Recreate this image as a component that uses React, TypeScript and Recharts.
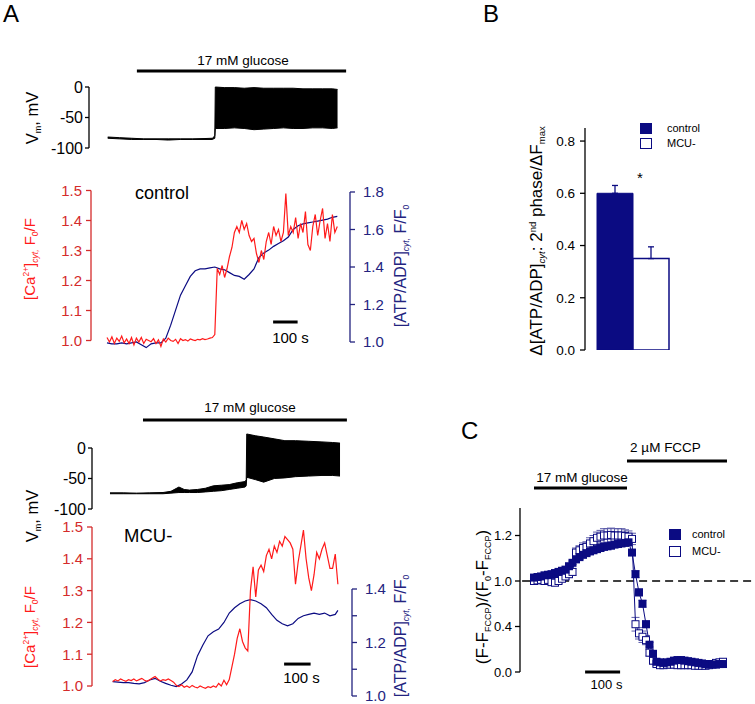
import React from 'react'
import {
  ComposedChart, BarChart, Bar, Line, Area, XAxis, YAxis,
  ReferenceLine, ErrorBar, Legend,
} from 'recharts'

const NAVY = '#0b0b82'
const ERR = '#5a5aa8'
const RED = '#ff1a1a'
const RED_AXIS = '#d42b2b'
const BLUE_AXIS = '#23237f'
const FONT = '"Liberation Sans", Arial, Helvetica, sans-serif'

// ---------- A, control ----------
// membrane potential envelope (s, mV): trough / peak of the spike train
const vmCtrlTime = [3, 50, 100, 150, 200, 250, 300, 350, 400, 430, 440, 442, 480, 520, 560, 600, 640, 680, 720, 760, 800, 840, 880, 920, 941]
const vmCtrlLow = [-84, -85, -86, -86, -86, -87, -86, -86, -86, -86, -84, -68, -68, -67, -68, -70, -69, -68, -67, -68, -68, -67, -67, -68, -67]
const vmCtrlHigh = [-82, -83, -84, -85, -85, -85, -85, -85, -84.5, -84, -80, 0, -1, -1, -2, -1, -2, -2, -2, -2, -3, -3, -3, -3, -4]

// [Ca2+]cyt F0/F, one sample every 10 s from t = 0
const caCtrlStart = 0
const caCtrlDt = 10
const caCtrl = [
  1.01, 0.995, 1.012, 0.99, 1.008, 0.997, 1.015, 0.992, 1.005, 0.99,
  1.01, 0.985, 1.008, 0.995, 1.01, 0.99, 1.004, 1.0, 0.996, 1.006,
  0.99, 1.002, 0.98, 1.005, 0.995, 1.008, 1.0, 0.997, 1.004, 0.99,
  1.006, 1.0, 1.003, 0.998, 1.005, 1.002, 1.0, 1.004, 1.002, 1.006,
  1.003, 1.005, 1.008, 1.01, 1.02,
  1.24, 1.22, 1.25, 1.21, 1.24, 1.28, 1.31, 1.36, 1.38, 1.36,
  1.40, 1.37, 1.39, 1.35, 1.33, 1.34, 1.29, 1.26, 1.30, 1.27,
  1.33, 1.36, 1.32, 1.38, 1.35, 1.37, 1.33, 1.36, 1.49, 1.35,
  1.38, 1.36, 1.41, 1.34, 1.39, 1.36, 1.43, 1.32, 1.30, 1.38,
  1.42, 1.35, 1.40, 1.44, 1.34, 1.39, 1.33, 1.42, 1.36, 1.38,
]

// [ATP/ADP]cyt F/F0
const atpCtrlTime = [
  0, 20, 40, 60, 80, 100, 120, 140, 160, 180, 200, 220, 240, 260, 280, 300,
  320, 340, 360, 380, 400, 420, 440, 460, 480, 500, 520, 540, 560, 580, 600,
  620, 640, 660, 680, 700, 720, 740, 760, 780, 800, 820, 840, 860, 880, 900, 920, 940,
]
const atpCtrl = [
  0.995, 0.99, 0.99, 0.995, 0.99, 0.995, 1.0, 0.985, 0.97, 0.99,
  0.995, 0.995, 1.02, 1.09, 1.17, 1.25, 1.30, 1.35, 1.38, 1.39,
  1.39, 1.395, 1.40, 1.39, 1.385, 1.37, 1.355, 1.35, 1.335, 1.36,
  1.39, 1.45, 1.475, 1.49, 1.51, 1.525, 1.54, 1.56, 1.60, 1.62,
  1.63, 1.635, 1.64, 1.645, 1.65, 1.655, 1.665, 1.67,
]

// ---------- A, MCU- ----------
const vmMcuTime = [0, 50, 100, 150, 200, 230, 260, 280, 300, 330, 360, 390, 420, 450, 480, 510, 514, 516, 550, 580, 620, 660, 700, 750, 800, 840, 868]
const vmMcuLow = [-75, -75, -75, -75, -75, -74, -73, -73, -73, -73, -72, -71, -70, -68, -66, -64, -62, -48, -52, -56, -50, -49, -47, -46, -45, -45, -46]
const vmMcuHigh = [-73.5, -73.5, -74, -73.5, -73, -71, -64, -68, -69, -68, -66, -62, -61, -60, -57, -55, -52, 23, 20, 18, 15, 12, 12, 11, 10, 9, 8]

const caMcuStart = 10
const caMcuDt = 10
const caMcu = [
  1.014, 1.02, 1.016, 1.022, 1.018, 1.015, 1.02, 1.017, 1.022, 1.016,
  1.02, 1.024, 1.018, 1.015, 1.02, 1.025, 1.03, 1.022, 1.016, 1.02,
  1.018, 1.022, 1.017, 1.012,
  1.002, 0.998, 1.004, 0.996, 1.0, 0.995, 1.002, 0.997, 0.994, 1.0,
  0.996, 0.993, 0.998, 0.995, 1.0, 0.996,
  1.008, 1.0, 1.018, 1.004, 1.02,
  1.06, 1.10, 1.15, 1.18, 1.14, 1.12, 1.11, 1.30, 1.375, 1.28,
  1.365, 1.38, 1.36, 1.41, 1.43, 1.40, 1.44, 1.42, 1.455, 1.44,
  1.47, 1.46, 1.45, 1.43, 1.32, 1.39, 1.44, 1.49, 1.40, 1.34,
  1.30, 1.35, 1.42, 1.40, 1.43, 1.45, 1.41, 1.37, 1.37, 1.415,
  1.32,
]

const atpMcuTime = [
  10, 30, 50, 70, 90, 110, 130, 150, 170, 190, 210, 230, 250, 270, 290, 310,
  330, 350, 370, 390, 410, 430, 450, 470, 490, 510, 530, 550, 570, 590, 610,
  630, 650, 670, 690, 710, 730, 750, 770, 790, 810, 830, 850, 860,
]
const atpMcu = [
  1.054, 1.052, 1.05, 1.05, 1.047, 1.045, 1.05, 1.06, 1.066, 1.055,
  1.047, 1.04, 1.035, 1.045, 1.06, 1.09, 1.15, 1.19, 1.225, 1.24,
  1.25, 1.275, 1.31, 1.33, 1.345, 1.355, 1.36, 1.355, 1.345, 1.33,
  1.305, 1.283, 1.27, 1.262, 1.27, 1.29, 1.30, 1.305, 1.31, 1.305,
  1.31, 1.30, 1.305, 1.32,
]

// ---------- B ----------
const bGroups = ['2nd phase']
const bControl = [0.6]
const bControlErr = [0.03]
const bMcu = [0.35]
const bMcuErr = [0.045]

// ---------- C ----------
const cTime = [
  0, 10, 20, 30, 40, 50, 60, 70, 80, 90, 100, 110, 120, 130, 140, 150, 160,
  170, 180, 190, 200, 210, 220, 230, 240, 250, 260, 270, 280, 290, 300, 310,
  320, 330, 340, 350, 360, 370, 380, 390, 400, 410, 420, 430, 440, 450, 460,
  470, 480, 490, 500, 510, 520, 530, 540,
]
const cControl = [
  0.83, 0.835, 0.84, 0.85, 0.855, 0.86, 0.87, 0.88, 0.89, 0.90,
  0.93, 0.96, 0.99, 1.01, 1.03, 1.045, 1.06, 1.07, 1.08, 1.09,
  1.10, 1.105, 1.11, 1.12, 1.125, 1.13, 1.135, 1.14, 1.05, 0.86,
  0.70, 0.60, 0.42, 0.24, 0.16, 0.09, 0.085, 0.08, 0.085, 0.09,
  0.10, 0.105, 0.105, 0.10, 0.095, 0.09, 0.085, 0.08, 0.075, 0.07,
  0.07, 0.065, 0.065, 0.07, 0.07,
]
const cControlErr = [
  0.01, 0.01, 0.01, 0.01, 0.01, 0.01, 0.01, 0.01, 0.015, 0.015,
  0.015, 0.015, 0.02, 0.02, 0.02, 0.02, 0.02, 0.02, 0.02, 0.02,
  0.02, 0.02, 0.02, 0.02, 0.02, 0.02, 0.02, 0.02, 0.02, 0.03,
  0.03, 0.03, 0.03, 0.02, 0.02, 0.015, 0.01, 0.01, 0.01, 0.01,
  0.01, 0.01, 0.01, 0.01, 0.01, 0.01, 0.01, 0.01, 0.01, 0.01,
  0.01, 0.01, 0.01, 0.01, 0.01,
]
const cMcu = [
  0.80, 0.805, 0.81, 0.80, 0.81, 0.79, 0.785, 0.80, 0.82, 0.84,
  0.86, 0.88, 1.05, 1.07, 1.09, 1.10, 1.13, 1.15, 1.18, 1.19,
  1.20, 1.20, 1.205, 1.20, 1.20, 1.20, 1.195, 1.19, 1.17, 0.42,
  0.34, 0.31, 0.28, 0.17, 0.10, 0.07, 0.06, 0.06, 0.065, 0.065,
  0.065, 0.06, 0.06, 0.06, 0.06, 0.06, 0.055, 0.055, 0.055, 0.055,
  0.06, 0.07, 0.08, 0.085, 0.09,
]
const cMcuErr = [
  0.02, 0.02, 0.02, 0.02, 0.02, 0.02, 0.02, 0.02, 0.025, 0.025,
  0.03, 0.03, 0.04, 0.04, 0.045, 0.045, 0.05, 0.05, 0.05, 0.055,
  0.06, 0.06, 0.06, 0.06, 0.06, 0.06, 0.055, 0.05, 0.05, 0.06,
  0.05, 0.05, 0.04, 0.03, 0.03, 0.02, 0.02, 0.02, 0.02, 0.02,
  0.02, 0.02, 0.02, 0.02, 0.02, 0.02, 0.02, 0.02, 0.02, 0.02,
  0.02, 0.02, 0.02, 0.02, 0.02,
]
const cTicks = [0, 0.4, 0.8, 1.2]
const cTickLabels = ['0.0', '0.4', '1.0', '1.2']

// ---------- tables ----------
const rangeRows = (time: number[], lo: number[], hi: number[]) =>
  time.map((t, i) => ({ t, range: [lo[i], hi[i]] }))
const traceRows = (time: number[], v: number[]) => time.map((t, i) => ({ t, v: v[i] }))
const sampledRows = (start: number, dt: number, v: number[]) => v.map((y, i) => ({ t: start + i * dt, v: y }))

const vmCtrlRows = rangeRows(vmCtrlTime, vmCtrlLow, vmCtrlHigh)
const vmMcuRows = rangeRows(vmMcuTime, vmMcuLow, vmMcuHigh)
const caCtrlRows = sampledRows(caCtrlStart, caCtrlDt, caCtrl)
const caMcuRows = sampledRows(caMcuStart, caMcuDt, caMcu)
const atpCtrlRows = traceRows(atpCtrlTime, atpCtrl)
const atpMcuRows = traceRows(atpMcuTime, atpMcu)
const bRows = bGroups.map((g, i) => ({
  group: g, control: bControl[i], mcu: bMcu[i],
  controlErr: [0, bControlErr[i]], mcuErr: [0, bMcuErr[i]],
}))
const cRows = cTime.map((t, i) => ({
  t, control: cControl[i], mcu: cMcu[i], controlErr: cControlErr[i], mcuErr: cMcuErr[i],
}))

const fmt1 = (v: number) => v.toFixed(1)

function VmChart({ top, width, height, yWidth, margin, xDomain, yDomain, rows, glucose }: any) {
  return (
    <div style={{ position: 'absolute', left: 0, top }}>
      <ComposedChart width={width} height={height} data={rows} margin={margin}>
        <XAxis type="number" dataKey="t" domain={xDomain} allowDataOverflow hide />
        <YAxis type="number" width={yWidth} domain={yDomain} allowDataOverflow ticks={[0, -50, -100]} interval={0}
          axisLine={false} tickSize={4} tickMargin={2}
          tickLine={{ stroke: '#000', strokeWidth: 1.3 }} tick={{ fill: '#000', fontSize: 16 }} />
        <ReferenceLine ifOverflow="visible" segment={[{ x: xDomain[0], y: -100 }, { x: xDomain[0], y: 0 }]} stroke="#000" strokeWidth={1.3} />
        <ReferenceLine ifOverflow="visible" segment={[{ x: glucose[0], y: glucose[2] }, { x: glucose[1], y: glucose[2] }]} stroke="#000" strokeWidth={3} />
        <Area dataKey="range" type="linear" stroke="#000" strokeWidth={1} fill="#000" fillOpacity={1}
          dot={false} activeDot={false} isAnimationActive={false} />
      </ComposedChart>
    </div>
  )
}

function CaChart({ top, height, margin, leftW, rightW, xDomain, caDomain, atpDomain, atpTicks, atpTop, caRows, atpRows, scaleBar }: any) {
  return (
    <div style={{ position: 'absolute', left: 0, top }}>
      <ComposedChart width={420} height={height} margin={margin}>
        <XAxis type="number" dataKey="t" domain={xDomain} allowDataOverflow hide />
        <YAxis yAxisId="ca" orientation="left" type="number" width={leftW} domain={caDomain} allowDataOverflow
          ticks={[1.0, 1.1, 1.2, 1.3, 1.4, 1.5]} interval={0} tickFormatter={fmt1} axisLine={false} tickSize={5} tickMargin={4}
          tickLine={{ stroke: RED_AXIS, strokeWidth: 1.3 }} tick={{ fill: RED_AXIS, fontSize: 15 }} />
        <YAxis yAxisId="atp" orientation="right" type="number" width={rightW} domain={atpDomain} allowDataOverflow
          ticks={atpTicks} interval={0} tickFormatter={(v: number) => (Math.round(v * 10) % 2 === 0 ? v.toFixed(1) : '')}
          axisLine={false} tickSize={5} tickMargin={8}
          tickLine={{ stroke: BLUE_AXIS, strokeWidth: 1.3 }} tick={{ fill: BLUE_AXIS, fontSize: 15 }} />
        <ReferenceLine yAxisId="ca" ifOverflow="visible" segment={[{ x: xDomain[0], y: 1.0 }, { x: xDomain[0], y: 1.5 }]} stroke={RED_AXIS} strokeWidth={1.3} />
        <ReferenceLine yAxisId="atp" ifOverflow="visible" segment={[{ x: xDomain[1], y: 1.0 }, { x: xDomain[1], y: atpTop }]} stroke={BLUE_AXIS} strokeWidth={1.3} />
        <ReferenceLine yAxisId="ca" ifOverflow="visible" segment={[{ x: scaleBar[0], y: scaleBar[2] }, { x: scaleBar[1], y: scaleBar[2] }]} stroke="#000" strokeWidth={3} />
        <Line yAxisId="atp" data={atpRows} dataKey="v" type="linear" stroke={NAVY} strokeWidth={1.2} dot={false} activeDot={false} isAnimationActive={false} />
        <Line yAxisId="ca" data={caRows} dataKey="v" type="linear" stroke={RED} strokeWidth={1.2} dot={false} activeDot={false} isAnimationActive={false} />
      </ComposedChart>
    </div>
  )
}

function SquareLegend({ items, gap, textGap, height }: any) {
  return (
    <div style={{ fontFamily: FONT }}>
      {items.map((it: any) => (
        <div key={it.name} style={{ display: 'flex', alignItems: 'center', height, marginBottom: gap }}>
          <span style={{
            display: 'inline-block', width: 12, height, boxSizing: 'border-box',
            background: it.filled ? NAVY : '#fff', border: `1.3px solid ${NAVY}`,
          }} />
          <span style={{ marginLeft: textGap, fontSize: 11, lineHeight: `${height}px`, color: '#000' }}>{it.name}</span>
        </div>
      ))}
    </div>
  )
}

const legendItems = [{ name: 'control', filled: true }, { name: 'MCU-', filled: false }]

const FilledSquare = (p: any) => {
  if (p.cx == null || p.cy == null) return <g key={`f-${p.index}`} />
  return <rect key={`f-${p.index}`} x={p.cx - 4} y={p.cy - 4} width={8} height={8} fill={NAVY} />
}
const OpenSquare = (p: any) => {
  if (p.cx == null || p.cy == null) return <g key={`o-${p.index}`} />
  return <rect key={`o-${p.index}`} x={p.cx - 3.5} y={p.cy - 3.5} width={7} height={7} fill="#fff" stroke={NAVY} strokeWidth={1} />
}

function PanelB() {
  return (
    <div style={{ position: 'absolute', left: 480, top: 100 }}>
      <BarChart width={275} height={270} data={bRows} margin={{ top: 28, right: 74, bottom: 20, left: 0 }} barGap={0} barSize={36}>
        <XAxis dataKey="group" hide />
        <YAxis type="number" width={105} domain={[0, 0.85]} allowDataOverflow ticks={[0, 0.2, 0.4, 0.6, 0.8]} interval={0}
          tickFormatter={fmt1} axisLine={{ stroke: '#000', strokeWidth: 1.3 }} tickSize={5} tickMargin={5}
          tickLine={{ stroke: '#000', strokeWidth: 1.3 }} tick={{ fill: '#000', fontSize: 13.5 }} />
        <Bar dataKey="control" fill={NAVY} stroke={NAVY} strokeWidth={1} isAnimationActive={false}>
          <ErrorBar dataKey="controlErr" direction="y" width={3} stroke={NAVY} strokeWidth={1.3} />
        </Bar>
        <Bar dataKey="mcu" fill="#fff" stroke={NAVY} strokeWidth={1.5} isAnimationActive={false}>
          <ErrorBar dataKey="mcuErr" direction="y" width={3} stroke={NAVY} strokeWidth={1.3} />
        </Bar>
        <Legend layout="vertical" align="center" verticalAlign="middle"
          wrapperStyle={{ left: 160, top: 23, width: 90 }}
          content={() => <SquareLegend items={legendItems} gap={4} textGap={15} height={11} />} />
      </BarChart>
    </div>
  )
}

function PanelC() {
  const xDomain = [-40, 631.43]
  return (
    <div style={{ position: 'absolute', left: 480, top: 430 }}>
      <ComposedChart width={275} height={274} data={cRows} margin={{ top: 10, right: 0, bottom: 32, left: 0 }}>
        <XAxis type="number" dataKey="t" domain={xDomain} allowDataOverflow hide />
        <YAxis type="number" width={40} domain={[0, 2.0396]} allowDataOverflow ticks={cTicks} interval={0}
          tickFormatter={(v: number, i: number) => cTickLabels[i] ?? fmt1(v)} axisLine={false}
          tickSize={5} tickMargin={3} tickLine={{ stroke: '#000', strokeWidth: 1.3 }} tick={{ fill: '#000', fontSize: 13 }} />
        <ReferenceLine ifOverflow="visible" segment={[{ x: xDomain[0], y: 0 }, { x: xDomain[0], y: 1.442 }]} stroke="#000" strokeWidth={1.3} />
        <ReferenceLine ifOverflow="visible" segment={[{ x: -34, y: 0.8 }, { x: 623, y: 0.8 }]} stroke="#000" strokeWidth={1.5} strokeDasharray="8 5" />
        <ReferenceLine ifOverflow="visible" segment={[{ x: 0, y: 1.6176 }, { x: 265.7, y: 1.6176 }]} stroke="#000" strokeWidth={3} />
        <ReferenceLine ifOverflow="visible" segment={[{ x: 265.7, y: 1.855 }, { x: 551.4, y: 1.855 }]} stroke="#000" strokeWidth={3} />
        <ReferenceLine ifOverflow="visible" segment={[{ x: 146, y: 0 }, { x: 246, y: 0 }]} stroke="#000" strokeWidth={3} />
        <Line dataKey="mcu" type="linear" stroke={NAVY} strokeWidth={1} dot={OpenSquare} activeDot={false} isAnimationActive={false}>
          <ErrorBar dataKey="mcuErr" direction="y" width={4} stroke={ERR} strokeWidth={1} />
        </Line>
        <Line dataKey="control" type="linear" stroke={NAVY} strokeWidth={1} dot={FilledSquare} activeDot={false} isAnimationActive={false}>
          <ErrorBar dataKey="controlErr" direction="y" width={4} stroke={ERR} strokeWidth={1} />
        </Line>
        <Legend layout="vertical" align="center" verticalAlign="middle"
          wrapperStyle={{ left: 189, top: 99, width: 80 }}
          content={() => <SquareLegend items={legendItems} gap={6} textGap={11} height={11} />} />
      </ComposedChart>
    </div>
  )
}

function Overlay() {
  return (
    <svg width={755} height={704} style={{ position: 'absolute', left: 0, top: 0, pointerEvents: 'none' }} fontFamily={FONT}>
      <text x={3} y={22} fontSize={24}>A</text>
      <text x={483} y={22} fontSize={24}>B</text>
      <text x={461} y={439} fontSize={24}>C</text>

      <text x={243} y={64.5} fontSize={13.5} textAnchor="middle">17 mM glucose</text>
      <text x={250} y={411.5} fontSize={13.5} textAnchor="middle">17 mM glucose</text>
      <text x={135} y={199} fontSize={18}>control</text>
      <text x={124} y={542} fontSize={18.5}>MCU-</text>
      <text x={290.5} y={343} fontSize={15} textAnchor="middle">100 s</text>
      <text x={301.5} y={683} fontSize={15} textAnchor="middle">100 s</text>

      <text transform="translate(38 118) rotate(-90)" textAnchor="middle" fontSize={16.5}>
        V<tspan fontSize={9} dy={3}>m</tspan><tspan dy={-3}>, mV</tspan>
      </text>
      <text transform="translate(38 516) rotate(-90)" textAnchor="middle" fontSize={16.5}>
        V<tspan fontSize={9} dy={3}>m</tspan><tspan dy={-3}>, mV</tspan>
      </text>
      {[259, 627].map((cy) => (
        <text key={`ca-${cy}`} transform={`translate(35 ${cy}) rotate(-90)`} textAnchor="middle" fontSize={15} fill={RED}>
          [Ca<tspan fontSize={8.5} dy={-6}>2+</tspan><tspan dy={6}>]</tspan>
          <tspan fontSize={8.5} dy={3} fontStyle="italic">cyt,</tspan><tspan dy={-3}> F</tspan>
          <tspan fontSize={8.5} dy={3}>0</tspan><tspan dy={-3}>/F</tspan>
        </text>
      ))}
      {[266, 636].map((cy) => (
        <text key={`atp-${cy}`} transform={`translate(406 ${cy}) rotate(-90)`} textAnchor="middle" fontSize={16} fill={BLUE_AXIS}>
          [ATP/ADP]<tspan fontSize={8.5} dy={3} fontStyle="italic">cyt,</tspan><tspan dy={-3}> F/F</tspan>
          <tspan fontSize={8.5} dy={3}>0</tspan>
        </text>
      ))}

      <text x={640} y={183} fontSize={15} textAnchor="middle">*</text>
      <text transform="translate(542 241) rotate(-90)" textAnchor="middle" fontSize={17}>
        Δ[ATP/ADP]<tspan fontSize={9.5} dy={3} fontStyle="italic">cyt</tspan><tspan dy={-3}>: 2</tspan>
        <tspan fontSize={9.5} dy={-6}>nd</tspan><tspan dy={6}> phase/ΔF</tspan>
        <tspan fontSize={9.5} dy={3}>max</tspan>
      </text>

      <text x={665.5} y={451.5} fontSize={13.5} textAnchor="middle">2 µM FCCP</text>
      <text x={582} y={481.5} fontSize={13.5} textAnchor="middle">17 mM glucose</text>
      <text x={606.5} y={688.5} fontSize={13} textAnchor="middle">100 s</text>
      <text transform="translate(488 597) rotate(-90)" textAnchor="middle" fontSize={17}>
        (F-F<tspan fontSize={9} dy={3}>FCCP</tspan><tspan dy={-3}>)/(F</tspan>
        <tspan fontSize={9} dy={3}>0</tspan><tspan dy={-3}>-F</tspan>
        <tspan fontSize={9} dy={3}>FCCP</tspan><tspan dy={-3}>)</tspan>
      </text>
    </svg>
  )
}

export default function App() {
  return (
    <div style={{ position: 'absolute', left: 0, top: 0, width: 755, height: 704, background: '#fff', fontFamily: FONT }}>
      <VmChart top={40} width={360} height={120} yWidth={89} margin={{ top: 10, right: 10, bottom: 8, left: 0 }}
        xDomain={[-73.47, 991.84]} yDomain={[-106.56, 60.66]} rows={vmCtrlRows} glucose={[122, 976, 26.2]} />
      <CaChart top={170} height={200} margin={{ top: 15, right: 0, bottom: 18, left: 0 }} leftW={91} rightW={70}
        xDomain={[-65.31, 991.84]} caDomain={[0.9617, 1.5183]} atpDomain={[0.9467, 1.8373]}
        atpTicks={[1.0, 1.2, 1.4, 1.6, 1.8]} atpTop={1.8} caRows={caCtrlRows} atpRows={atpCtrlRows}
        scaleBar={[678, 778, 1.0617]} />
      <VmChart top={395} width={362} height={125} yWidth={92} margin={{ top: 5, right: 10, bottom: 8, left: 0 }}
        xDomain={[-67.92, 913.21]} yDomain={[-104.92, 78.69]} rows={vmMcuRows} glucose={[124.5, 894, 46]} />
      <CaChart top={515} height={189} margin={{ top: 5, right: 0, bottom: 4, left: 0 }} leftW={92} rightW={68}
        xDomain={[-67.92, 913.21]} caDomain={[0.956, 1.522]} atpDomain={[0.985, 1.658]}
        atpTicks={[1.0, 1.1, 1.2, 1.3, 1.4]} atpTop={1.4} caRows={caMcuRows} atpRows={atpMcuRows}
        scaleBar={[657, 757, 1.069]} />
      <PanelB />
      <PanelC />
      <Overlay />
    </div>
  )
}
